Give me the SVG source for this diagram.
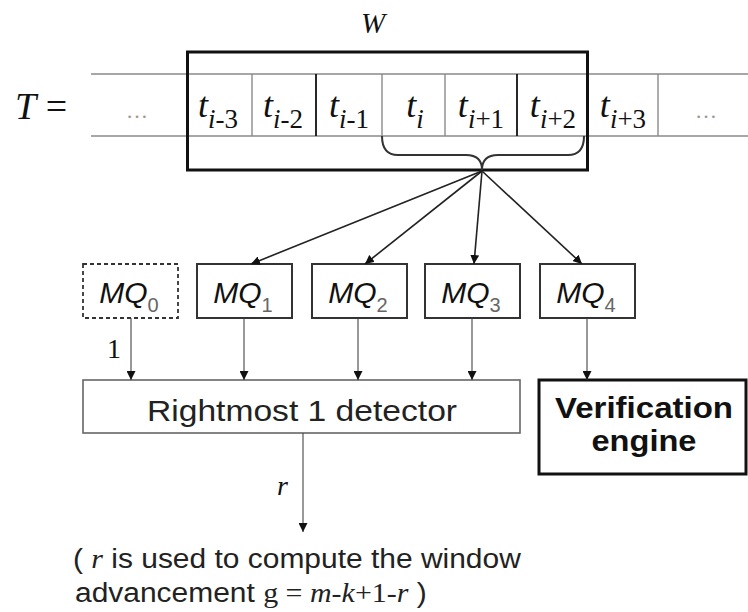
<svg xmlns="http://www.w3.org/2000/svg" width="748" height="612" viewBox="0 0 748 612">
  <style>
    .serif { font-family: "Liberation Serif", "Times New Roman", serif; }
    .sans { font-family: "Liberation Sans", Arial, sans-serif; }
    .it { font-style: italic; }
    .cell { font-size: 36px; fill: #111; }
    .sub { font-size: 27px; }
    .dots { font-size: 22px; fill: #999; }
    .rail { stroke: #8a8a8a; stroke-width: 1.6; fill: none; }
    .div { stroke: #8a8a8a; stroke-width: 1.4; }
    .divdark { stroke: #111; stroke-width: 1.8; }
    .mq { fill: #fff; stroke: #333; stroke-width: 2; }
    .mqtxt { font-size: 30px; fill: #111; }
    .mqsub { font-size: 20px; fill: #666; font-style: normal; }
    .wire { stroke: #444; stroke-width: 1.1; fill: none; }
    .fan { stroke: #222; stroke-width: 1.6; fill: none; }
    .note { font-size: 28px; fill: #222; }
  </style>
  <defs>
    <marker id="head" viewBox="0 0 10 10" refX="10" refY="5" markerWidth="9" markerHeight="9" markerUnits="userSpaceOnUse" orient="auto">
      <path d="M0,0 L10,5 L0,10 Z" fill="#111"/>
    </marker>
  </defs>

  <rect width="748" height="612" fill="#fff"/>

  <!-- window label -->
  <text class="serif it" x="373" y="33" font-size="29" text-anchor="middle" fill="#111">W</text>

  <!-- text row T -->
  <g id="text-row">
    <text class="serif" x="15" y="119" font-size="38" fill="#111"><tspan font-style="italic">T</tspan> =</text>
    <line class="rail" x1="91" y1="74" x2="748" y2="74"/>
    <line class="rail" x1="91" y1="136" x2="748" y2="136"/>
    <line class="div" x1="252" y1="74" x2="252" y2="136"/>
    <line class="divdark" x1="316" y1="74" x2="316" y2="136"/>
    <line class="div" x1="382" y1="74" x2="382" y2="136"/>
    <line class="div" x1="445" y1="74" x2="445" y2="136"/>
    <line class="divdark" x1="517" y1="74" x2="517" y2="136"/>
    <line class="div" x1="658" y1="74" x2="658" y2="136"/>
    <text class="serif dots" x="137" y="118" text-anchor="middle">…</text>
    <text class="serif dots" x="706" y="118" text-anchor="middle">…</text>
    <text class="serif cell" x="218" y="117" text-anchor="middle"><tspan class="it">t</tspan><tspan class="sub" dy="11"><tspan class="it">i</tspan>-3</tspan></text>
    <text class="serif cell" x="283" y="117" text-anchor="middle"><tspan class="it">t</tspan><tspan class="sub" dy="11"><tspan class="it">i</tspan>-2</tspan></text>
    <text class="serif cell" x="349" y="117" text-anchor="middle"><tspan class="it">t</tspan><tspan class="sub" dy="11"><tspan class="it">i</tspan>-1</tspan></text>
    <text class="serif cell" x="415" y="117" text-anchor="middle"><tspan class="it">t</tspan><tspan class="sub" dy="11"><tspan class="it">i</tspan></tspan></text>
    <text class="serif cell" x="481" y="117" text-anchor="middle"><tspan class="it">t</tspan><tspan class="sub" dy="11"><tspan class="it">i</tspan>+1</tspan></text>
    <text class="serif cell" x="553" y="117" text-anchor="middle"><tspan class="it">t</tspan><tspan class="sub" dy="11"><tspan class="it">i</tspan>+2</tspan></text>
    <text class="serif cell" x="623" y="117" text-anchor="middle"><tspan class="it">t</tspan><tspan class="sub" dy="11"><tspan class="it">i</tspan>+3</tspan></text>
  </g>

  <!-- window frame W over the text row -->
  <g id="window">
    <rect x="187.5" y="52" width="400" height="118" fill="none" stroke="#111" stroke-width="3"/>
    <path d="M382,136 Q382,155 398,155 L466,155 Q482,155 482,170 Q482,155 498,155 L568,155 Q584,155 584,136" fill="none" stroke="#333" stroke-width="2"/>
  </g>

  <!-- match queues -->
  <g id="mq0">
    <rect x="83" y="264" width="95" height="54" fill="#fff" stroke="#333" stroke-width="1.8" stroke-dasharray="4 3"/>
    <text class="sans it mqtxt" x="129" y="303" text-anchor="middle">MQ<tspan class="mqsub" dy="9">0</tspan></text>
  </g>
  <g id="mq1">
    <rect class="mq" x="197" y="264" width="95" height="54"/>
    <text class="sans it mqtxt" x="243" y="303" text-anchor="middle">MQ<tspan class="mqsub" dy="9">1</tspan></text>
  </g>
  <g id="mq2">
    <rect class="mq" x="312" y="264" width="95" height="54"/>
    <text class="sans it mqtxt" x="358" y="303" text-anchor="middle">MQ<tspan class="mqsub" dy="9">2</tspan></text>
  </g>
  <g id="mq3">
    <rect class="mq" x="425" y="264" width="95" height="54"/>
    <text class="sans it mqtxt" x="471" y="303" text-anchor="middle">MQ<tspan class="mqsub" dy="9">3</tspan></text>
  </g>
  <g id="mq4">
    <rect class="mq" x="540" y="264" width="95" height="54"/>
    <text class="sans it mqtxt" x="586" y="303" text-anchor="middle">MQ<tspan class="mqsub" dy="9">4</tspan></text>
  </g>

  <!-- rightmost-one detector -->
  <g id="detector">
    <rect x="83" y="380" width="437" height="53" fill="#fff" stroke="#666" stroke-width="1.6"/>
    <text class="sans" x="302" y="421" font-size="30" fill="#222" text-anchor="middle" textLength="310" lengthAdjust="spacingAndGlyphs">Rightmost 1 detector</text>
  </g>

  <!-- verification engine -->
  <g id="verifier">
    <rect x="539" y="380" width="207" height="94" fill="#fff" stroke="#111" stroke-width="3"/>
    <text class="sans" x="644" y="418" font-size="30" font-weight="bold" fill="#111" text-anchor="middle" textLength="178" lengthAdjust="spacingAndGlyphs">Verification</text>
    <text class="sans" x="644" y="451" font-size="30" font-weight="bold" fill="#111" text-anchor="middle" textLength="105" lengthAdjust="spacingAndGlyphs">engine</text>
  </g>

  <!-- connectors -->
  <g id="connectors">
    <line class="fan" x1="482" y1="171" x2="251" y2="264" marker-end="url(#head)"/>
    <line class="fan" x1="482" y1="171" x2="365" y2="264" marker-end="url(#head)"/>
    <line class="fan" x1="482" y1="171" x2="474" y2="264" marker-end="url(#head)"/>
    <line class="fan" x1="482" y1="171" x2="582" y2="264" marker-end="url(#head)"/>
    <line class="wire" x1="131" y1="318" x2="131" y2="380" marker-end="url(#head)"/>
    <line class="wire" x1="244" y1="318" x2="244" y2="380" marker-end="url(#head)"/>
    <line class="wire" x1="358" y1="318" x2="358" y2="380" marker-end="url(#head)"/>
    <line class="wire" x1="472" y1="318" x2="472" y2="380" marker-end="url(#head)"/>
    <line class="wire" x1="587" y1="318" x2="587" y2="380" marker-end="url(#head)"/>
    <line class="wire" x1="303" y1="433" x2="303" y2="532" marker-end="url(#head)"/>
    <text class="serif" x="107" y="358" font-size="28" fill="#111">1</text>
    <text class="serif it" x="277" y="495" font-size="28" fill="#111">r</text>
  </g>

  <!-- note on the detector output -->
  <g id="note">
    <text class="sans note" transform="translate(73 568) scale(1.07 1)">( <tspan class="serif it">r</tspan> is used to compute the window</text>
    <text class="sans note" transform="translate(75 602) scale(1.07 1)">advancement <tspan class="serif">g = </tspan><tspan class="serif it">m-k</tspan><tspan class="serif">+1-</tspan><tspan class="serif it">r</tspan> )</text>
  </g>
</svg>
